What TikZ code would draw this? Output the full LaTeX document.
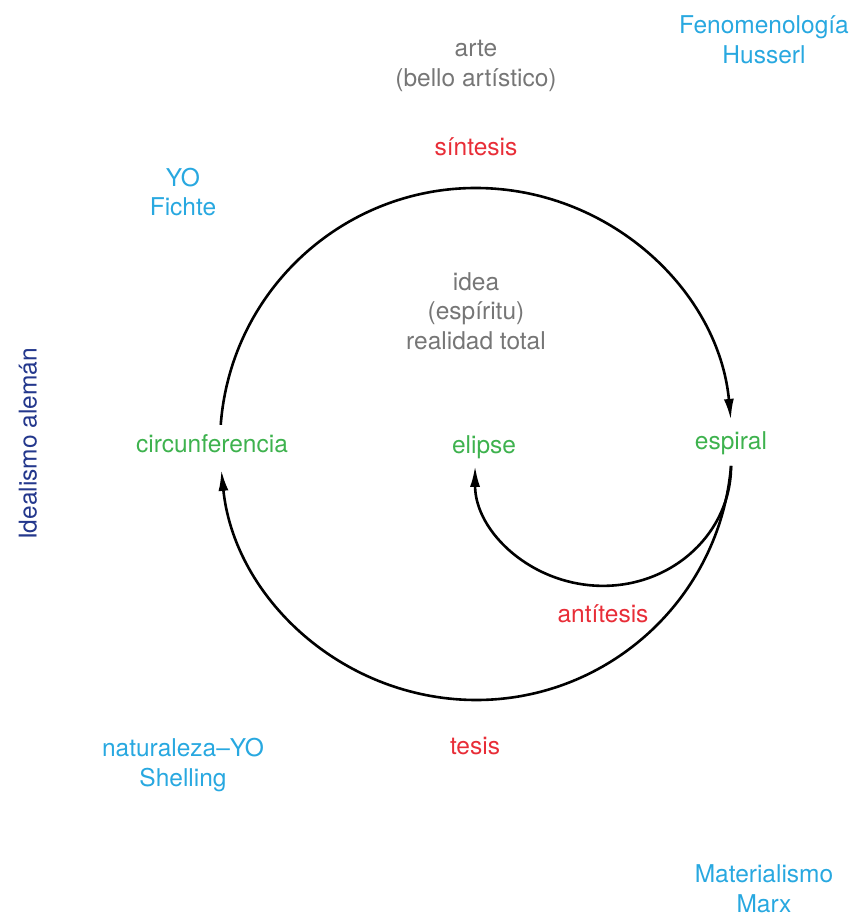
\documentclass[tikz,border=0pt]{standalone}
\usepackage{fontspec}
\setmainfont{TeX Gyre Heros}
\usetikzlibrary{arrows.meta,calc}
\definecolor{gris}{RGB}{118,118,118}
\definecolor{rojo}{RGB}{232,45,55}
\definecolor{celeste}{RGB}{40,168,224}
\definecolor{verde}{RGB}{62,178,78}
\definecolor{marino}{RGB}{35,55,140}
\tikzset{
  txt/.style={align=center,font=\fontsize{24.5}{29.5}\selectfont,inner sep=0pt},
  flecha/.style={line width=2.6pt,-{Latex[length=21pt,width=10pt]}}
}
\begin{document}
\begin{tikzpicture}[x=1pt,y=1pt]
\useasboundingbox (0,0) rectangle (867,916);
% centro
\coordinate (c) at (476,472);
\node[txt,text=gris] (arte) at (476,850){arte\\(bello artístico)};
\node[txt,text=rojo] (sint) at (476,769){síntesis};
\node[txt,text=celeste] (fichte) at (183,724){YO\\Fichte};
\node[txt,text=celeste] (husserl) at (764,876){Fenomenología\\Husserl};
\node[txt,text=gris] (idea) at (476,605){idea\\(espíritu)\\realidad total};
\node[txt,text=verde] (circ) at (212,472){circunferencia};
\node[txt,text=verde] (elipse) at (484,469){elipse};
\node[txt,text=verde] (espiral) at (731,473){espiral};
\node[txt,text=marino,rotate=90] (ideal) at (28,472){Idealismo alemán};
\node[txt,text=rojo] (antit) at (603,302){antítesis};
\node[txt,text=rojo] (tesis) at (475,170){tesis};
\node[txt,text=celeste] (shell) at (183,151){naturaleza--YO\\Shelling};
\node[txt,text=celeste] (marx) at (764,27){Materialismo\\Marx};

\coordinate (a1) at ($(c)+(175.7:256)$);
\coordinate (b1) at ($(c)+(-4.9:256)$);
\draw[flecha] (a1) arc[start angle=175.7,end angle=5.4,radius=256];
\draw[flecha] (b1) arc[start angle=-4.9,end angle=-174.2,radius=256];
\draw[flecha] (b1) arc[start angle=0,end angle=-180,x radius=128,y radius=120];
\end{tikzpicture}
\end{document}
